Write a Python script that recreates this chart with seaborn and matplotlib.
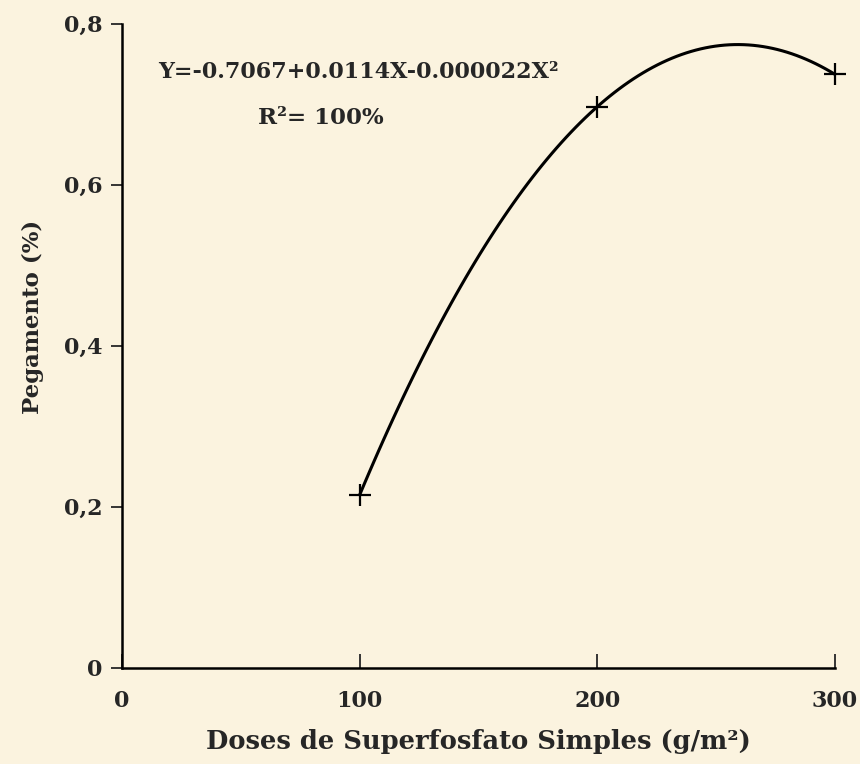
import matplotlib
matplotlib.use("Agg")
import matplotlib.pyplot as plt
import seaborn as sns
import pandas as pd

# DATA #
doses = [100, 200, 300]
pegamento = [0.215, 0.697, 0.737]
x_ticks = [0, 100, 200, 300]
x_labels = ["0", "100", "200", "300"]
y_ticks = [0, 0.2, 0.4, 0.6, 0.8]
y_labels = ["0", "0,2", "0,4", "0,6", "0,8"]

df = pd.DataFrame({"dose": doses, "peg": pegamento})

sns.set_style("ticks")
plt.rcParams["font.family"] = ["DejaVu Serif"]
plt.rcParams["font.weight"] = "bold"

bg = "#fbf3df"
fig = plt.figure(figsize=(8.6, 7.64), dpi=100, facecolor=bg)
ax = fig.add_axes([0.142, 0.126, 0.829, 0.843], facecolor=bg)

# quadratic fit line through the points
sns.regplot(data=df, x="dose", y="peg", order=2, ci=None, scatter=False,
            line_kws={"color": "black", "lw": 2.2}, ax=ax)
sns.scatterplot(data=df, x="dose", y="peg", marker="+", s=260, color="black",
                linewidth=1.6, ax=ax, zorder=3, clip_on=False)

ax.set_xlim(0, 300)
ax.set_ylim(0, 0.8)
ax.set_xticks(x_ticks)
ax.set_xticklabels(x_labels, fontsize=16, fontweight="bold")
ax.set_yticks(y_ticks)
ax.set_yticklabels(y_labels, fontsize=16, fontweight="bold")
ax.tick_params(axis="x", direction="in", length=10, width=1.3, pad=16)
ax.tick_params(axis="y", direction="out", length=8, width=1.3, pad=6)

sns.despine(ax=ax)
for s in ["left", "bottom"]:
    ax.spines[s].set_linewidth(1.8)
    ax.spines[s].set_color("black")

ax.set_xlabel("Doses de Superfosfato Simples (g/m²)", fontsize=18.5,
              fontweight="bold", labelpad=12)
ax.set_ylabel("Pegamento (%)", fontsize=16.5, fontweight="bold")
ax.yaxis.set_label_coords(-0.11, 0.545)

ax.text(15, 0.74, "Y=-0.7067+0.0114X-0.000022X²", fontsize=16,
        fontweight="bold", va="center", ha="left")
ax.text(57, 0.683, "R²= 100%", fontsize=16.5, fontweight="bold",
        va="center", ha="left")

fig.savefig("out.png", dpi=100, facecolor=bg)
